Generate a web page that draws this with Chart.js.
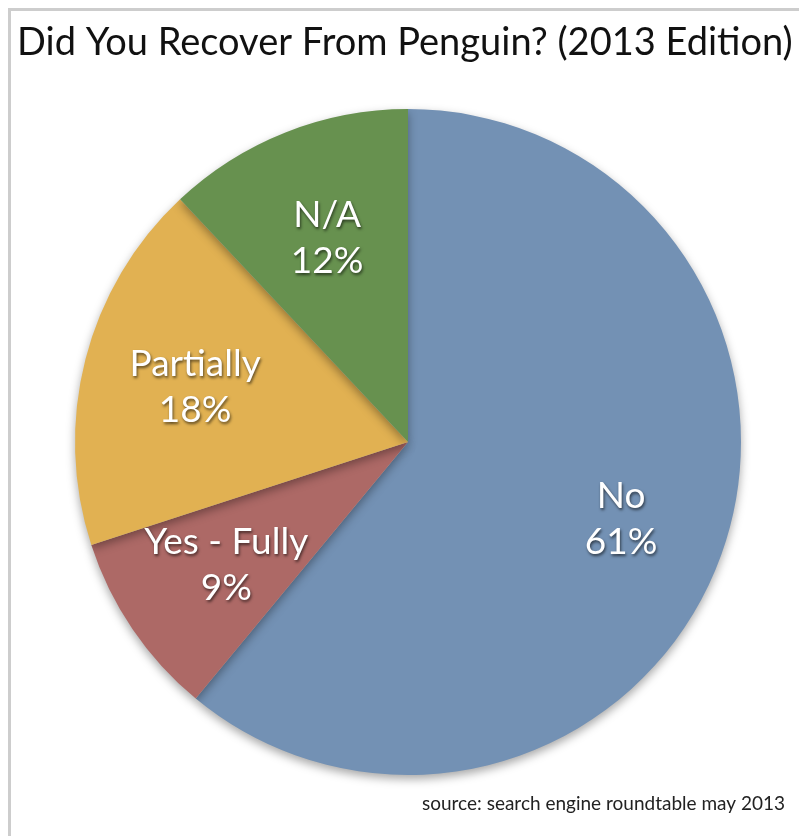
<!DOCTYPE html>
<html>
<head>
<meta charset="utf-8">
<script src="https://cdn.jsdelivr.net/npm/chart.js@4"></script>
<style>
html,body{margin:0;padding:0;background:#fff;}
#frame{position:absolute;left:8px;top:8px;width:800px;height:840px;border-left:3px solid #cdcdcd;border-top:3px solid #cdcdcd;}
#wrap{position:absolute;left:0;top:0;width:799px;height:836px;}
</style>
</head>
<body>
<div id="frame"></div>
<div id="wrap"><canvas id="pieChart"></canvas></div>
<script>
let labels=['No','Yes - Fully','Partially','N/A'];
let values=[61,9,18,12];
let colors=['#7391b4','#ad6966','#e1b152','#67914f'];
let titleText='Did You Recover From Penguin? (2013 Edition)';
let sourceText='source: search engine roundtable may 2013';
let fontName='Lato, "Open Sans", sans-serif';

// title, source line and white labels inside slices
let textPlugin={
    id:'textPlugin',
    beforeDatasetsDraw(chart){
        let ctx=chart.ctx;
        ctx.save();
        ctx.shadowColor='rgba(0,0,0,0.35)';
        ctx.shadowBlur=10;
        ctx.shadowOffsetY=4;
    },
    afterDatasetsDraw(chart){
        let ctx=chart.ctx;
        ctx.restore();
        let meta=chart.getDatasetMeta(0);
        ctx.save();
        ctx.fillStyle='#fff';
        ctx.textAlign='center';
        ctx.textBaseline='middle';
        ctx.font='37px '+fontName;
        ctx.shadowColor='rgba(0,0,0,0.6)';
        ctx.shadowBlur=3;
        ctx.shadowOffsetX=1;
        ctx.shadowOffsetY=2;
        meta.data.forEach(function(arc,i){
            let p=arc.getProps(['x','y','startAngle','endAngle','outerRadius'],true);
            let mid=(p.startAngle+p.endAngle)/2;
            let r=p.outerRadius*(i==0?0.68:0.66);
            let x=p.x+Math.cos(mid)*r;
            let y=p.y+Math.sin(mid)*r;
            ctx.fillText(labels[i],x,y-23);
            ctx.fillText(values[i]+'%',x,y+23);
        });
        ctx.restore();

        ctx.save();
        ctx.fillStyle='#111';
        ctx.textBaseline='alphabetic';
        ctx.textAlign='left';
        ctx.font='38px '+fontName;
        ctx.fillText(titleText,17,55);
        ctx.fillStyle='#222';
        ctx.textAlign='right';
        ctx.font='19px '+fontName;
        ctx.fillText(sourceText,785,810);
        ctx.restore();
    }
};

new Chart('pieChart',{
    type:'pie',
    data:{
        labels:labels,
        datasets:[{
            data:values,
            backgroundColor:colors,
            borderWidth:0
        }]
    },
    options:{
        responsive:true,
        maintainAspectRatio:false,
        animation:false,
        layout:{padding:{left:75,right:58,top:109,bottom:61}},
        plugins:{
            legend:{display:false},
            tooltip:{enabled:false},
            title:{display:false}
        }
    },
    plugins:[textPlugin]
});
</script>
</body>
</html>
